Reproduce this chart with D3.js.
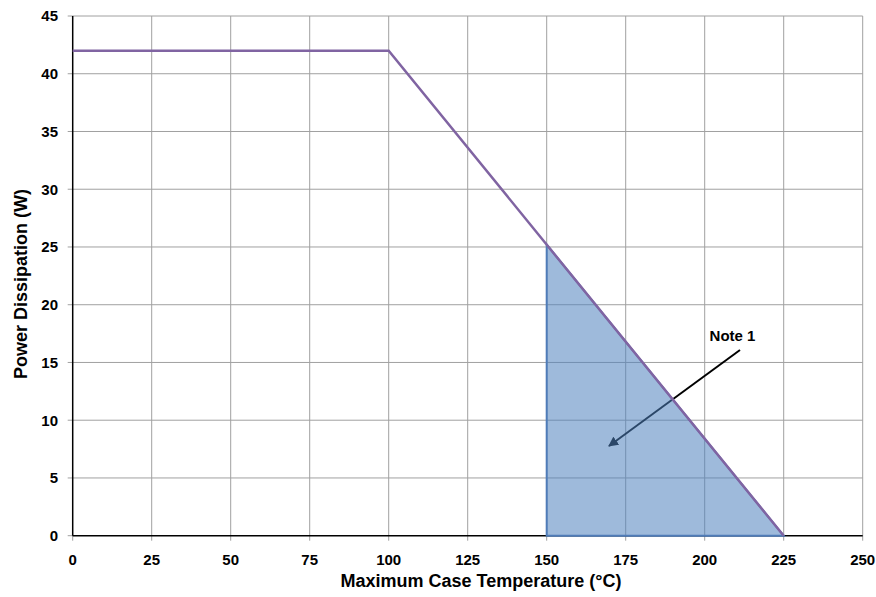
<!DOCTYPE html>
<html>
<head>
<meta charset="utf-8">
<script src="https://cdn.jsdelivr.net/npm/d3@7"></script>
<style>
  body { margin: 0; background: #fff; }
  text { font-family: "Liberation Sans", Arial, sans-serif; font-weight: bold; fill: #000; }
</style>
</head>
<body>
<div id="main"></div>
<script>
// derating curve
const tempPts = [0, 100, 225]
const powerPts = [42, 42, 0]
// shaded region (Note 1)
const shadeTemp = [150, 150, 225]
const shadePower = [25.2, 0, 0]
const xTicks = [0, 25, 50, 75, 100, 125, 150, 175, 200, 225, 250]
const yTicks = [0, 5, 10, 15, 20, 25, 30, 35, 40, 45]

let width = 876,
    height = 597

let svg = d3.select("div#main")
    .append("svg")
    .attr("width", width)
    .attr("height", height)

let x = d3.scaleLinear().domain([0, 250]).range([72.7, 862.7])
let y = d3.scaleLinear().domain([0, 45]).range([535.7, 16])

// gridlines
svg.append("g")
    .selectAll("line")
    .data(xTicks.slice(1))
    .join("line")
    .attr("x1", d => x(d)).attr("x2", d => x(d))
    .attr("y1", y(45)).attr("y2", y(0) + 5)
    .attr("stroke", "#a0a0a0")
    .attr("stroke-width", 1)

svg.append("g")
    .selectAll("line")
    .data(yTicks.slice(1))
    .join("line")
    .attr("x1", x(0) - 5).attr("x2", x(250))
    .attr("y1", d => y(d)).attr("y2", d => y(d))
    .attr("stroke", "#a0a0a0")
    .attr("stroke-width", 1)

// tick stubs at origin
svg.append("line").attr("x1", x(0) - 5).attr("x2", x(0)).attr("y1", y(0)).attr("y2", y(0)).attr("stroke", "#a0a0a0")
svg.append("line").attr("x1", x(0)).attr("x2", x(0)).attr("y1", y(0)).attr("y2", y(0) + 5).attr("stroke", "#a0a0a0")

// axes
svg.append("line").attr("x1", x(0)).attr("x2", x(0)).attr("y1", y(45)).attr("y2", y(0)).attr("stroke", "#000").attr("stroke-width", 1.5)
svg.append("line").attr("x1", x(0)).attr("x2", x(250)).attr("y1", y(0)).attr("y2", y(0)).attr("stroke", "#000").attr("stroke-width", 1.5)

// tick labels
svg.append("g")
    .selectAll("text")
    .data(xTicks)
    .join("text")
    .attr("x", d => x(d))
    .attr("y", 565)
    .attr("text-anchor", "middle")
    .style("font-size", "15px")
    .text(d => d)

svg.append("g")
    .selectAll("text")
    .data(yTicks)
    .join("text")
    .attr("x", 58)
    .attr("y", d => y(d) + 5.3)
    .attr("text-anchor", "end")
    .style("font-size", "15px")
    .text(d => d)

// axis titles
svg.append("text")
    .attr("x", 481)
    .attr("y", 587)
    .attr("text-anchor", "middle")
    .style("font-size", "18px")
    .text("Maximum Case Temperature (°C)")

svg.append("text")
    .attr("transform", "translate(27,284) rotate(-90)")
    .attr("text-anchor", "middle")
    .style("font-size", "18px")
    .text("Power Dissipation (W)")

// arrow + note
svg.append("defs").append("marker")
    .attr("id", "arrow")
    .attr("viewBox", "0 0 10 10")
    .attr("refX", 9).attr("refY", 5)
    .attr("markerWidth", 5).attr("markerHeight", 5)
    .attr("orient", "auto")
    .append("path")
    .attr("d", "M0,0 L10,5 L0,10 z")
    .attr("fill", "#000")

svg.append("line")
    .attr("x1", 740).attr("y1", 350)
    .attr("x2", 609).attr("y2", 446)
    .attr("stroke", "#000")
    .attr("stroke-width", 2)
    .attr("marker-end", "url(#arrow)")

svg.append("text")
    .attr("x", 732.5)
    .attr("y", 341)
    .attr("text-anchor", "middle")
    .style("font-size", "15px")
    .text("Note 1")

// shaded region
let shade = shadeTemp.map((t, i) => [t, shadePower[i]])
svg.append("path")
    .datum(shade)
    .attr("d", d3.line().x(d => x(d[0])).y(d => y(d[1])).curve(d3.curveLinearClosed))
    .attr("fill", "rgba(79,129,189,0.55)")
    .attr("stroke", "#4f7cb8")
    .attr("stroke-width", 2)

// derating line
let curve = tempPts.map((t, i) => [t, powerPts[i]])
svg.append("path")
    .datum(curve)
    .attr("d", d3.line().x(d => x(d[0])).y(d => y(d[1])))
    .attr("fill", "none")
    .attr("stroke", "#8064a2")
    .attr("stroke-width", 2.5)
</script>
</body>
</html>
